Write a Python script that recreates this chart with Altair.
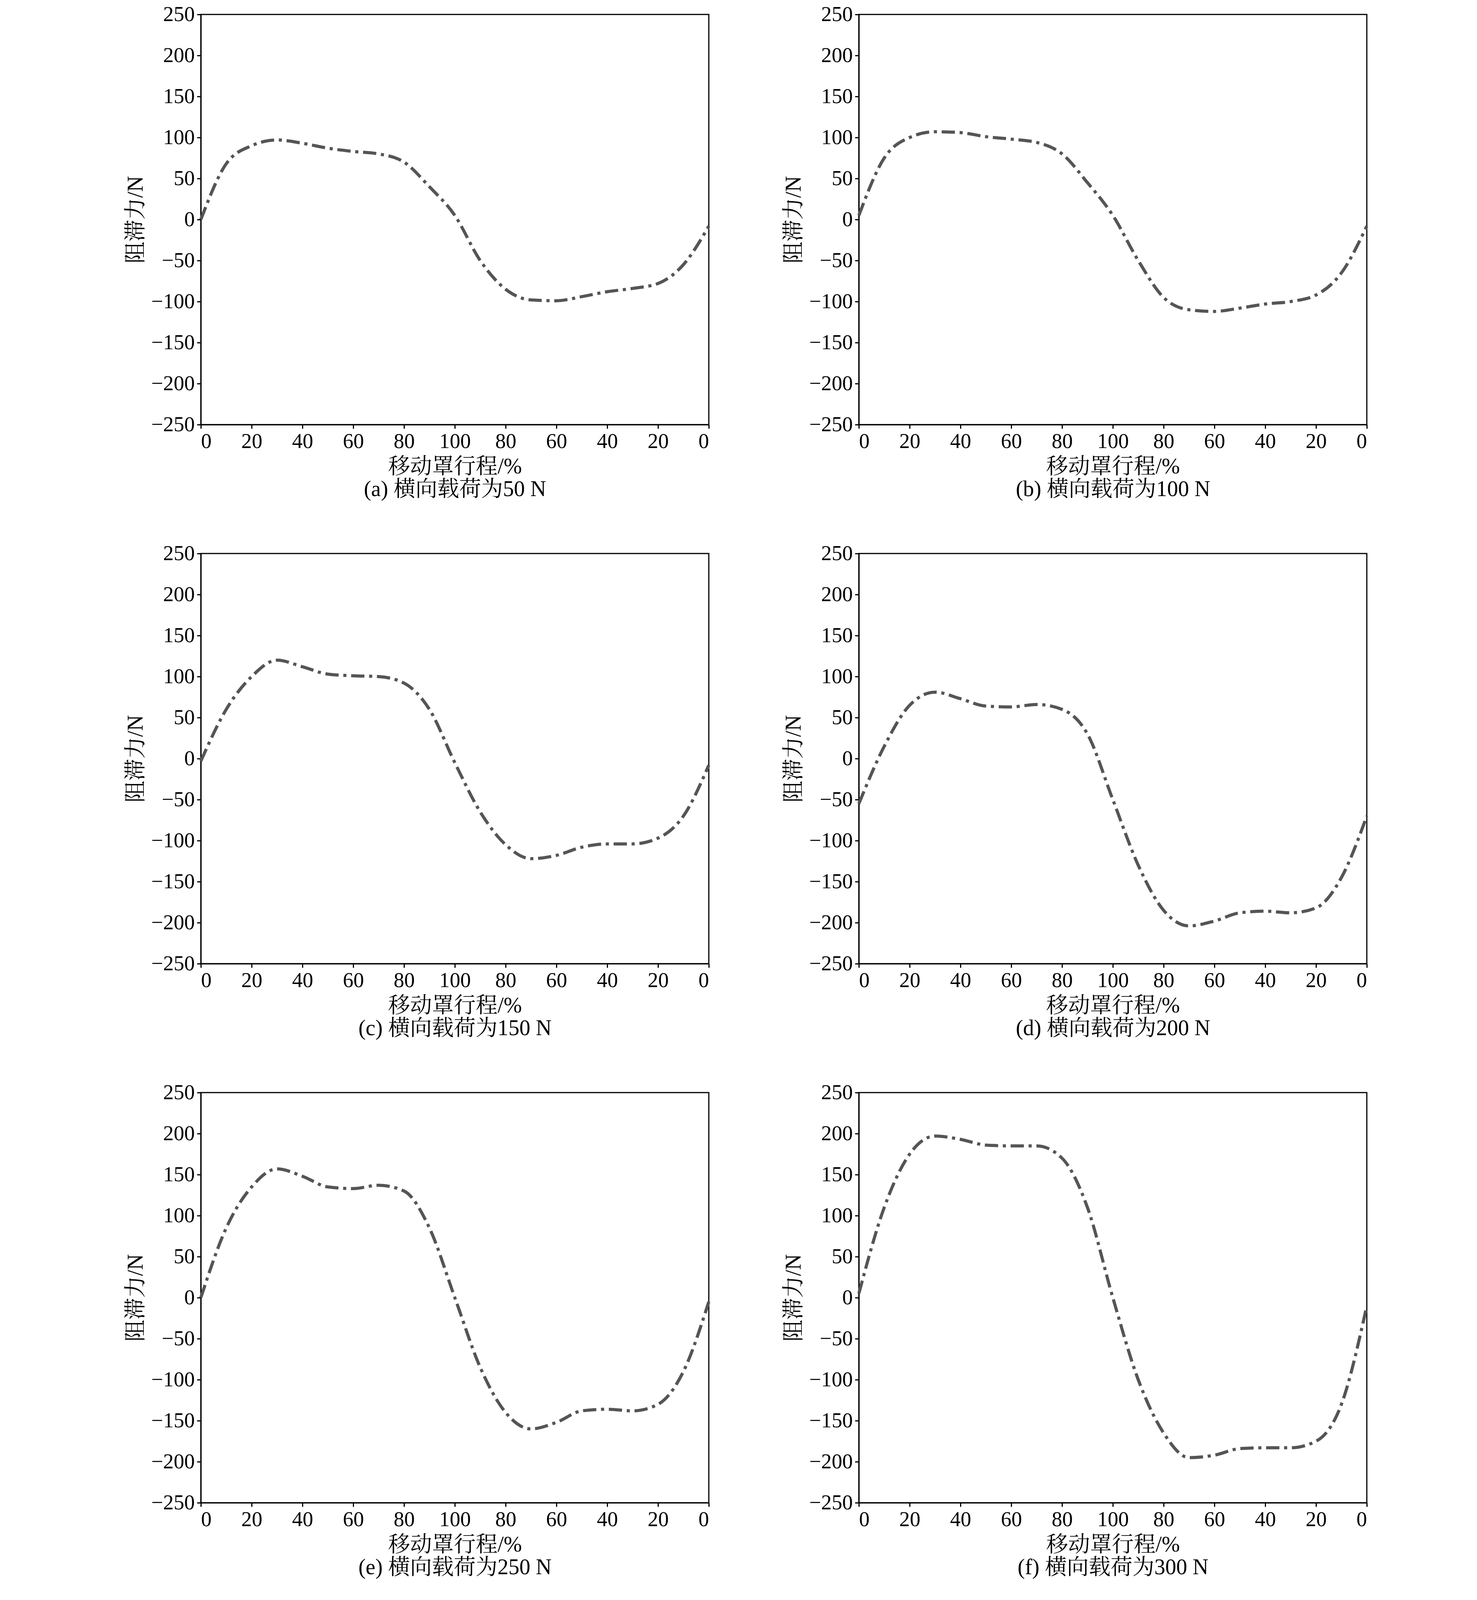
import altair as alt
import pandas as pd

stroke = [0, 10, 20, 30, 40, 50, 60, 70, 80, 90, 100, 110, 120, 130, 140, 150, 160, 170, 180, 190, 200]
force_a = [0, 68, 90, 97, 93, 87, 83, 80, 70, 40, 5, -50, -85, -98, -99, -94, -88, -84, -78, -55, -8]
force_b = [5, 75, 100, 107, 106, 101, 98, 94, 80, 45, 5, -50, -95, -110, -112, -108, -103, -100, -92, -65, -8]
force_c = [-3, 60, 100, 120, 112, 103, 101, 100, 92, 60, -5, -65, -105, -122, -118, -108, -104, -104, -97, -70, -8]
force_d = [-55, 15, 65, 81, 73, 64, 63, 66, 60, 30, -50, -130, -185, -204, -198, -188, -186, -188, -182, -145, -70]
force_e = [0, 85, 135, 157, 148, 135, 133, 137, 130, 85, 0, -85, -140, -160, -152, -138, -136, -138, -130, -90, -5]
force_f = [5, 110, 175, 197, 193, 186, 185, 185, 170, 110, 0, -100, -165, -195, -192, -184, -183, -183, -175, -130, -10]

captions = [
    "(a) 横向载荷为50 N", "(b) 横向载荷为100 N", "(c) 横向载荷为150 N",
    "(d) 横向载荷为200 N", "(e) 横向载荷为250 N", "(f) 横向载荷为300 N",
]
series = [force_a, force_b, force_c, force_d, force_e, force_f]

FONT = "Liberation Serif, Noto Serif CJK SC, Noto Sans CJK SC"


def panel(values, caption):
    df = pd.DataFrame({"x": stroke, "y": values})
    return (
        alt.Chart(df)
        .mark_line(interpolate="monotone", color="#555555", strokeWidth=8,
                   strokeDash=[34, 12, 8, 12])
        .encode(
            x=alt.X("x:Q", scale=alt.Scale(domain=[0, 200], nice=False),
                    axis=alt.Axis(values=list(range(0, 201, 20)),
                                  labelExpr="datum.value <= 100 ? datum.value : 200 - datum.value",
                                  title=["移动罩行程/%", caption])),
            y=alt.Y("y:Q", scale=alt.Scale(domain=[-250, 250], nice=False),
                    axis=alt.Axis(values=list(range(-250, 251, 50)), title="阻滞力/N")),
        )
        .properties(width=1300, height=1050)
    )


rows = [alt.hconcat(panel(series[i], captions[i]), panel(series[i + 1], captions[i + 1]), spacing=170)
        for i in (0, 2, 4)]

chart = (
    alt.vconcat(*rows, spacing=106)
    .properties(padding={"left": 310, "top": 0, "right": 20, "bottom": 20})
    .configure_view(stroke="black", strokeWidth=3)
    .configure_axis(grid=False, domainColor="black", domainWidth=3, tickColor="black",
                    tickWidth=3, tickSize=10, labelFont=FONT, titleFont=FONT,
                    labelFontSize=54, titleFontSize=56, titleFontWeight="normal",
                    labelColor="black", titleColor="black", labelPadding=6, titlePadding=10)
)

chart.save("out.html", embed_options={"renderer": "svg", "actions": False})
